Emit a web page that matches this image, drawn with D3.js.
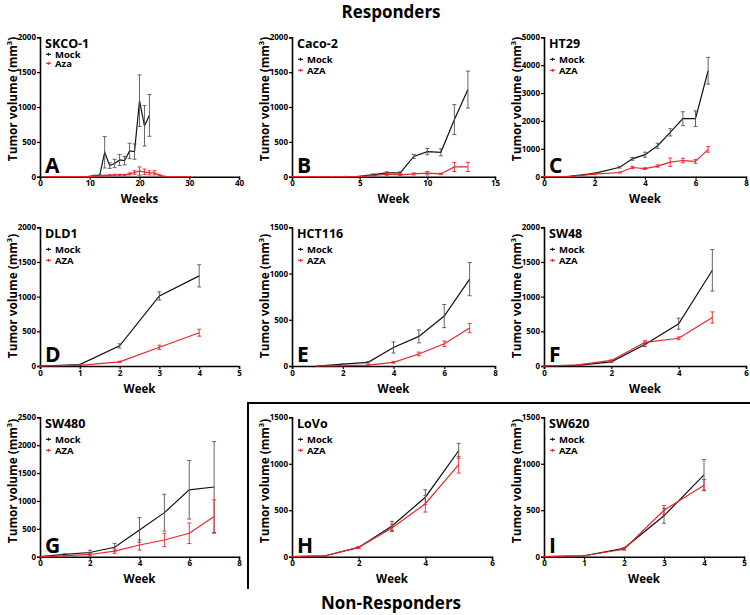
<!DOCTYPE html>
<html><head><meta charset="utf-8">
<script src="https://cdn.jsdelivr.net/npm/d3@7"></script>
<style>
body{margin:0;background:#fff}
svg{display:block}
text{font-family:"Open Sans",sans-serif;font-weight:bold;fill:#000}
</style>
</head><body><svg id="c" width="750" height="615"></svg>
<script>
// ---- Data ----
// A: SKCO-1
const skcoMockWeeks = [1,2,3,4,5,6,7,8,9,10,11,12,13,14,15,16,17,18,19,20,21,22];
const skcoMock      = [0,0,0,0,0,0,0,0,0,5,15,20,350,160,190,240,230,370,360,1090,730,880];
const skcoMockErr   = [0,0,0,0,0,0,0,0,0,3,8,10,225,40,60,80,60,110,110,370,290,300];
const skcoAzaWeeks  = [1,2,3,4,5,6,7,8,9,10,11,12,13,14,15,16,17,18,19,20,21,22,23,24,25,26,27,28,29,30];
const skcoAza       = [0,0,0,0,0,0,0,0,0,0,5,10,15,20,25,25,25,40,60,80,70,55,55,20,5,0,0,0,0,0];
const skcoAzaErr    = [0,0,0,0,0,0,0,0,0,0,3,5,8,8,10,10,10,15,25,60,40,30,30,10,3,0,0,0,0,0];
// B: Caco-2
const cacoWeeks   = [0,1,2,3,4,5,6,7,8,9,10,11,12,13];
const cacoMock    = [0,0,0,0,3,5,30,55,55,290,360,350,820,1250];
const cacoMockErr = [0,0,0,0,2,3,10,15,15,30,45,50,215,265];
const cacoAza     = [0,0,0,0,2,3,15,35,25,40,50,40,140,140];
const cacoAzaErr  = [0,0,0,0,1,2,5,20,10,15,25,10,65,65];
// C: HT29
const ht29Weeks   = [0,1,2,3,3.5,4,4.5,5,5.5,6,6.5];
const ht29Mock    = [0,10,120,340,640,790,1110,1590,2080,2080,3800];
const ht29MockErr = [0,5,20,30,50,90,90,130,250,280,480];
const ht29Aza     = [0,5,90,150,330,290,380,520,580,550,980];
const ht29AzaErr  = [0,3,15,20,40,30,40,150,80,70,100];
// D: DLD1
const dld1Weeks   = [0,1,2,3,4];
const dld1Mock    = [0,20,290,1010,1300];
const dld1MockErr = [0,5,30,60,160];
const dld1Aza     = [0,10,60,270,480];
const dld1AzaErr  = [0,3,10,30,50];
// E: HCT116
const hctWeeks   = [1,2,3,4,5,6,7];
const hctMock    = [0,20,40,200,320,540,940];
const hctMockErr = [0,5,8,60,70,125,180];
const hctAza     = [0,5,10,40,130,240,410];
const hctAzaErr  = [0,2,4,10,20,30,50];
// F: SW48
const sw48Weeks   = [0,1,2,3,4,5];
const sw48Mock    = [0,10,60,310,610,1380];
const sw48MockErr = [0,3,8,30,80,300];
const sw48Aza     = [0,15,80,340,400,700];
const sw48AzaErr  = [0,4,10,25,20,80];
// G: SW480
const sw480Weeks   = [0,1,2,3,4,5,6,7];
const sw480Mock    = [0,40,75,170,480,790,1200,1250];
const sw480MockErr = [0,15,40,70,220,330,525,815];
const sw480Aza     = [0,15,40,100,210,300,420,720];
const sw480AzaErr  = [0,8,20,40,90,120,185,300];
// H: LoVo
const lovoWeeks   = [0,1,2,3,4,5];
const lovoMock    = [0,10,100,330,640,1140];
const lovoMockErr = [0,3,10,50,80,80];
const lovoAza     = [0,10,100,310,570,990];
const lovoAzaErr  = [0,3,10,40,90,90];
// I: SW620
const sw620Weeks   = [0,1,2,3,4];
const sw620Mock    = [0,10,90,440,880];
const sw620MockErr = [0,3,10,80,165];
const sw620Aza     = [0,10,80,500,770];
const sw620AzaErr  = [0,3,10,50,60];

const seriesLabels = ["Mock","AZA"];
const MOCK_COLOR = "#111", MOCK_ERR = "#555", AZA_COLOR = "#e8262d";

// ---- Layout ----
const rows = [
  {top:37.3, bot:176.7, xTitleY:203, yLabY:99},
  {top:227.3, bot:366, xTitleY:393, yLabY:296},
  {top:417.3, bot:556.7, xTitleY:583, yLabY:481}
];
const panels = [
  {letter:"A", name:"SKCO-1", treat:"Aza", row:0, x0:40, x1:239, xMax:40, xTicks:[0,10,20,30,40], yMax:2000, yTicks:[0,500,1000,1500,2000], xTitle:"Weeks",
   mw:skcoMockWeeks, m:skcoMock, me:skcoMockErr, aw:skcoAzaWeeks, a:skcoAza, ae:skcoAzaErr, legDy:[17,26]},
  {letter:"B", name:"Caco-2", treat:"AZA", row:0, x0:292, x1:495, xMax:15, xTicks:[0,5,10,15], yMax:2000, yTicks:[0,500,1000,1500,2000], xTitle:"Week",
   mw:cacoWeeks, m:cacoMock, me:cacoMockErr, aw:cacoWeeks, a:cacoAza, ae:cacoAzaErr},
  {letter:"C", name:"HT29", treat:"AZA", row:0, x0:544, x1:746, xMax:8, xTicks:[0,2,4,6,8], yMax:5000, yTicks:[0,1000,2000,3000,4000,5000], xTitle:"Week",
   mw:ht29Weeks, m:ht29Mock, me:ht29MockErr, aw:ht29Weeks, a:ht29Aza, ae:ht29AzaErr},
  {letter:"D", name:"DLD1", treat:"AZA", row:1, x0:40, x1:239, xMax:5, xTicks:[0,1,2,3,4,5], yMax:2000, yTicks:[0,500,1000,1500,2000], xTitle:"Week",
   mw:dld1Weeks, m:dld1Mock, me:dld1MockErr, aw:dld1Weeks, a:dld1Aza, ae:dld1AzaErr},
  {letter:"E", name:"HCT116", treat:"AZA", row:1, x0:292, x1:495, xMax:8, xTicks:[0,2,4,6,8], yMax:1500, yTicks:[0,500,1000,1500], xTitle:"Week",
   mw:hctWeeks, m:hctMock, me:hctMockErr, aw:hctWeeks, a:hctAza, ae:hctAzaErr},
  {letter:"F", name:"SW48", treat:"AZA", row:1, x0:544, x1:746, xMax:6, xTicks:[0,2,4,6], yMax:2000, yTicks:[0,500,1000,1500,2000], xTitle:"Week",
   mw:sw48Weeks, m:sw48Mock, me:sw48MockErr, aw:sw48Weeks, a:sw48Aza, ae:sw48AzaErr},
  {letter:"G", name:"SW480", treat:"AZA", row:2, x0:40, x1:239, xMax:8, xTicks:[0,2,4,6,8], yMax:2500, yTicks:[0,500,1000,1500,2000,2500], xTitle:"Week",
   mw:sw480Weeks, m:sw480Mock, me:sw480MockErr, aw:sw480Weeks, a:sw480Aza, ae:sw480AzaErr},
  {letter:"H", name:"LoVo", treat:"AZA", row:2, x0:292, x1:492, xMax:6, xTicks:[0,2,4,6], yMax:1500, yTicks:[0,500,1000,1500], xTitle:"Week",
   mw:lovoWeeks, m:lovoMock, me:lovoMockErr, aw:lovoWeeks, a:lovoAza, ae:lovoAzaErr},
  {letter:"I", name:"SW620", treat:"AZA", row:2, x0:544, x1:744, xMax:5, xTicks:[0,1,2,3,4,5], yMax:1500, yTicks:[0,500,1000,1500], xTitle:"Week",
   mw:sw620Weeks, m:sw620Mock, me:sw620MockErr, aw:sw620Weeks, a:sw620Aza, ae:sw620AzaErr}
];

const svg = d3.select("#c");
svg.append("rect").attr("width",750).attr("height",615).attr("fill","#fff");

svg.append("text").attr("x",391).attr("y",18).attr("text-anchor","middle").attr("font-size",17).text("Responders");
svg.append("text").attr("x",391).attr("y",609).attr("text-anchor","middle").attr("font-size",17).text("Non-Responders");

// separator lines
svg.append("line").attr("x1",248).attr("x2",750).attr("y1",403).attr("y2",403).attr("stroke","#000").attr("stroke-width",2);
svg.append("line").attr("x1",248).attr("x2",248).attr("y1",402).attr("y2",589).attr("stroke","#000").attr("stroke-width",2);

panels.forEach(p => {
  const r = rows[p.row];
  const x = d3.scaleLinear().domain([0,p.xMax]).range([p.x0,p.x1]);
  const y = d3.scaleLinear().domain([0,p.yMax]).range([r.bot,r.top]);
  const g = svg.append("g");

  const xa = g.append("g").attr("transform",`translate(0,${r.bot})`)
    .call(d3.axisBottom(x).tickValues(p.xTicks).tickSize(3).tickPadding(1).tickFormat(d3.format("d")));
  const ya = g.append("g").attr("transform",`translate(${p.x0},0)`)
    .call(d3.axisLeft(y).tickValues(p.yTicks).tickSize(3).tickPadding(1).tickFormat(d3.format("d")));
  [xa,ya].forEach(a=>{
    a.select(".domain").attr("stroke","#000").attr("stroke-width",1.6);
    a.selectAll(".tick line").attr("stroke","#000").attr("stroke-width",1.2);
    a.selectAll(".tick text").attr("font-size",8).attr("font-family","'Open Sans',sans-serif").attr("font-weight","bold").attr("fill","#000");
  });

  const line = d3.line().x(d=>x(d[0])).y(d=>y(d[1]));
  function drawSeries(ws, vs, es, col, ecol){
    const pts = ws.map((w,i)=>[w,vs[i],es[i]]);
    g.append("path").datum(pts).attr("d",line).attr("fill","none").attr("stroke",col).attr("stroke-width",1.2);
    const eg = g.append("g").attr("stroke",ecol).attr("stroke-width",0.9);
    pts.forEach(d=>{
      if(d[2]<=0) {
        eg.append("line").attr("x1",x(d[0])-1.5).attr("x2",x(d[0])+1.5).attr("y1",y(d[1])).attr("y2",y(d[1]));
        return;
      }
      const cx=x(d[0]), yt=y(d[1]+d[2]), yb=y(Math.max(0,d[1]-d[2]));
      eg.append("line").attr("x1",cx).attr("x2",cx).attr("y1",yt).attr("y2",yb);
      eg.append("line").attr("x1",cx-2).attr("x2",cx+2).attr("y1",yt).attr("y2",yt);
      eg.append("line").attr("x1",cx-2).attr("x2",cx+2).attr("y1",yb).attr("y2",yb);
    });
  }
  drawSeries(p.mw,p.m,p.me,MOCK_COLOR,MOCK_ERR);
  drawSeries(p.aw,p.a,p.ae,AZA_COLOR,AZA_COLOR);

  // name
  g.append("text").attr("x",p.x0+5).attr("y",r.top+11).attr("font-size",12.5).text(p.name);
  // legend
  const ld = p.legDy || [22,33];
  const cols=[MOCK_COLOR,AZA_COLOR];
  [seriesLabels[0], p.treat].forEach((lab,i)=>{
    const ly = r.top+ld[i];
    g.append("line").attr("x1",p.x0+6).attr("x2",p.x0+11).attr("y1",ly).attr("y2",ly).attr("stroke",cols[i]).attr("stroke-width",1.2);
    g.append("line").attr("x1",p.x0+8.5).attr("x2",p.x0+8.5).attr("y1",ly-1.5).attr("y2",ly+1.5).attr("stroke",cols[i]).attr("stroke-width",1);
    g.append("text").attr("x",p.x0+15).attr("y",ly+3.3).attr("font-size",9.5).attr("fill",i?AZA_COLOR:"#000").text(lab);
  });
  // letter
  g.append("text").attr("x",p.x0+5).attr("y",r.bot-4).attr("font-size",21).text(p.letter);
  // axis titles
  g.append("text").attr("x",(p.x0+p.x1)/2).attr("y",r.xTitleY).attr("text-anchor","middle").attr("font-size",11.5).text(p.xTitle);
  const yl = g.append("text").attr("transform",`translate(${p.x0-23},${r.yLabY}) rotate(-90)`).attr("text-anchor","middle").attr("font-size",11.8);
  yl.append("tspan").text("Tumor volume (mm");
  yl.append("tspan").attr("font-size",7.5).attr("dy",-5).text("3");
  yl.append("tspan").attr("dy",5).text(")");
});
</script>
</body></html>
